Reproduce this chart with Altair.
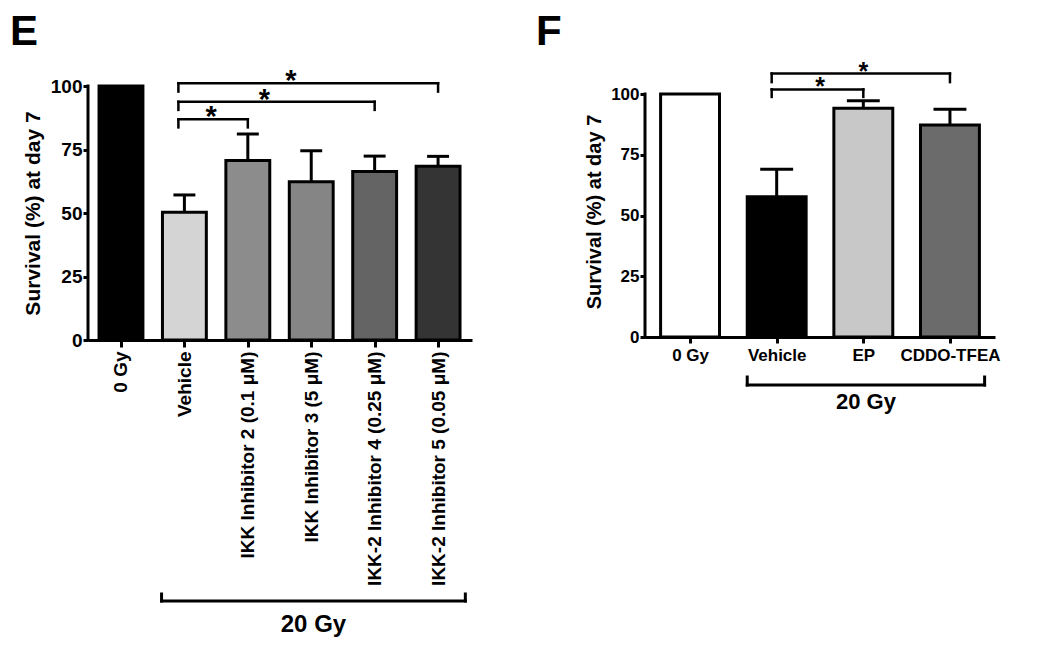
import json
import altair as alt
import pandas as pd

FONT = "Liberation Sans"

# ---------------- Panel E data ----------------
E_CATEGORIES = ["0 Gy", "Vehicle", "IKK Inhibitor 2 (0.1 μM)", "IKK Inhibitor 3 (5 μM)",
                "IKK-2 Inhibitor 4 (0.25 μM)", "IKK-2 Inhibitor 5 (0.05 μM)"]
E_VALUES = [100, 50.3, 70.7, 62.3, 66.3, 68.4]
E_ERRORS = [0, 6.8, 10.4, 12.2, 6.1, 3.9]
E_COLORS = ["#000000", "#d4d4d4", "#8c8c8c", "#858585", "#646464", "#343434"]
E_SIG_FROM = ["Vehicle", "Vehicle", "Vehicle"]
E_SIG_TO = ["IKK Inhibitor 2 (0.1 μM)", "IKK-2 Inhibitor 4 (0.25 μM)", "IKK-2 Inhibitor 5 (0.05 μM)"]
E_SIG_Y = [86.9, 93.8, 101.1]
E_SIG_LEG = [83.7, 90.6, 97.8]
E_SIG_TEXT = ["*", "*", "*"]
E_GROUP_LABEL = "20 Gy"
E_GROUP_FROM = "Vehicle"
E_GROUP_TO = "IKK-2 Inhibitor 5 (0.05 μM)"

# ---------------- Panel F data ----------------
F_CATEGORIES = ["0 Gy", "Vehicle", "EP", "CDDO-TFEA"]
F_VALUES = [100, 57.7, 94.1, 87.2]
F_ERRORS = [0, 11.3, 3.1, 6.5]
F_COLORS = ["#ffffff", "#000000", "#c8c8c8", "#6b6b6b"]
F_SIG_FROM = ["Vehicle", "Vehicle"]
F_SIG_TO = ["EP", "CDDO-TFEA"]
F_SIG_Y = [101.9, 108.4]
F_SIG_LEG = [98.8, 104.9]
F_SIG_TEXT = ["*", "*"]
F_GROUP_LABEL = "20 Gy"
F_GROUP_FROM = "Vehicle"
F_GROUP_TO = "CDDO-TFEA"

Y_TICKS = [0, 25, 50, 75, 100]
Y_TITLE = "Survival (%) at day 7"


def panel(cats, vals, errs, colors, sig_from, sig_to, sig_y, sig_leg, sig_text,
          group_label, group_from, group_to, letter, st):
    n = len(cats)
    bars_df = pd.DataFrame({"cat": cats, "idx": list(range(n)), "value": vals, "err": errs})
    bars_df["upper"] = bars_df["value"] + bars_df["err"]
    sig_df = pd.DataFrame({
        "x1": [cats.index(c) for c in sig_from],
        "x2": [cats.index(c) for c in sig_to],
        "y": sig_y, "leg": sig_leg, "text": sig_text,
    })
    grp_df = pd.DataFrame({"x1": [cats.index(group_from)], "x2": [cats.index(group_to)],
                           "text": [group_label]})
    letter_df = pd.DataFrame({"text": [letter]})

    xscale = alt.Scale(domain=[-st["pad_l"], n - 1 + st["pad_r"]], nice=False, zero=False)
    yscale = alt.Scale(domain=[0, st["ymax"]], nice=False, zero=True)
    xaxis = alt.Axis(
        values=list(range(n)),
        labelExpr=json.dumps(cats, ensure_ascii=False) + "[datum.value]",
        labelAngle=st["label_angle"], labelFont=FONT, labelFontWeight="bold",
        labelFontSize=st["xlabel_size"], labelColor="black", labelPadding=st["xlabel_pad"],
        labelOverlap=False, labelFlush=False, labelBound=False, labelLimit=0,
        tickSize=st["xtick"], tickWidth=3, tickColor="black",
        domainWidth=3, domainColor="black", grid=False, title=None,
    )
    yaxis = alt.Axis(
        values=Y_TICKS, title=Y_TITLE, titleFont=FONT, titleFontWeight="bold",
        titleFontSize=st["ytitle_size"], titleColor="black", titlePadding=st["ytitle_pad"],
        labelFont=FONT, labelFontWeight="bold", labelFontSize=st["ylabel_size"],
        labelColor="black", labelPadding=1, labelOverlap=False, labelFlush=False,
        tickSize=5, tickWidth=3, tickColor="black", domain=False, grid=False,
    )

    def X(f):
        return alt.X(f, type="quantitative", scale=xscale, axis=xaxis, title=None)

    def Y(f):
        return alt.Y(f, type="quantitative", scale=yscale, axis=yaxis)

    base = alt.Chart(bars_df)

    stems = base.transform_filter("datum.err > 0").mark_rule(
        color="black", strokeWidth=3).encode(x=X("idx"), y=Y("value"), y2="upper:Q")
    caps = base.transform_filter("datum.err > 0").transform_calculate(
        cl=f"datum.idx - {st['cap_hw']}", cr=f"datum.idx + {st['cap_hw']}"
    ).mark_rule(color="black", strokeWidth=3).encode(x=X("cl"), x2="cr:Q", y=Y("upper"))

    bars = base.transform_calculate(
        xl=f"datum.idx - {st['bar_hw']}", xr=f"datum.idx + {st['bar_hw']}"
    ).mark_rect(stroke="black", strokeWidth=3, strokeJoin="miter").encode(
        x=X("xl"), x2="xr:Q", y=Y("value"), y2=alt.datum(0),
        fill=alt.Color("cat:N", scale=alt.Scale(domain=cats, range=colors), legend=None),
    )

    yline = alt.Chart(letter_df).mark_rule(color="black", strokeWidth=3, strokeCap="square").encode(
        x=alt.value(0), y=alt.datum(0), y2=alt.datum(100))

    sb = alt.Chart(sig_df)
    sig_h = sb.mark_rule(color="black", strokeWidth=2.5, strokeCap="square",
                         xOffset=st["sig_xoff"]).encode(x=X("x1"), x2="x2:Q", y=Y("y"))
    sig_l = sb.mark_rule(color="black", strokeWidth=2.5, strokeCap="square",
                         xOffset=st["sig_xoff"]).encode(x=X("x1"), y=Y("leg"), y2="y:Q")
    sig_r = sb.mark_rule(color="black", strokeWidth=2.5, strokeCap="square").encode(
        x=X("x2"), y=Y("leg"), y2="y:Q")
    stars = sb.transform_calculate(
        sx=f"datum.x1 + {st['star_f']} * (datum.x2 - datum.x1)"
    ).mark_text(font=FONT, fontWeight="bold", fontSize=st["star_size"], color="black",
                baseline="alphabetic", dy=st["star_dy"]).encode(x=X("sx"), y=Y("y"), text="text:N")

    gb = alt.Chart(grp_df).transform_calculate(
        gs=f"datum.x1 - {st['g_l']}", ge=f"datum.x2 + {st['g_r']}",
        gm=f"(datum.x1 - {st['g_l']} + datum.x2 + {st['g_r']}) / 2")
    g_h = gb.mark_rule(color="black", strokeWidth=3, strokeCap="square").encode(
        x=X("gs"), x2="ge:Q", y=alt.value(st["g_line"]))
    g_l = gb.mark_rule(color="black", strokeWidth=3, strokeCap="square").encode(
        x=X("gs"), y=alt.value(st["g_leg"]), y2=alt.value(st["g_line"]))
    g_r = gb.mark_rule(color="black", strokeWidth=3, strokeCap="square").encode(
        x=X("ge"), y=alt.value(st["g_leg"]), y2=alt.value(st["g_line"]))
    g_t = gb.mark_text(font=FONT, fontWeight="bold", fontSize=st["g_size"], color="black",
                       baseline="middle", align="center").encode(
        x=X("gm"), y=alt.value(st["g_text"]), text="text:N")

    let = alt.Chart(letter_df).mark_text(
        font=FONT, fontWeight="bold", fontSize=42, color="black", align="left",
        baseline="alphabetic").encode(x=alt.value(st["letter_x"]), y=alt.value(st["letter_y"]),
                                      text="text:N")

    return alt.layer(stems, caps, bars, yline, sig_h, sig_l, sig_r, stars,
                     g_h, g_l, g_r, g_t, let).properties(width=st["width"], height=st["height"])


E_STYLE = dict(width=384, height=254, pad_l=0.52, pad_r=0.535, ymax=100, bar_hw=0.346,
               cap_hw=0.173, label_angle=-90, xlabel_size=19, xlabel_pad=4, xtick=7,
               ylabel_size=19, ytitle_size=21, ytitle_pad=7, star_size=29, star_dy=7,
               star_f=0.42, sig_xoff=-6, g_l=0.36, g_r=0.43, g_line=515, g_leg=508,
               g_text=539, g_size=24, letter_x=-78, letter_y=-41)
F_STYLE = dict(width=350, height=251, pad_l=0.52, pad_r=0.52, ymax=100 * 251 / 243, bar_hw=0.34,
               cap_hw=0.19, label_angle=0, xlabel_size=17, xlabel_pad=4, xtick=6,
               ylabel_size=17, ytitle_size=20, ytitle_pad=6, star_size=25, star_dy=6,
               star_f=0.5, sig_xoff=-5, g_l=0.34, g_r=0.40, g_line=299, g_leg=291,
               g_text=316, g_size=22, letter_x=-109, letter_y=-41)

chart_e = panel(E_CATEGORIES, E_VALUES, E_ERRORS, E_COLORS, E_SIG_FROM, E_SIG_TO, E_SIG_Y,
                E_SIG_LEG, E_SIG_TEXT, E_GROUP_LABEL, E_GROUP_FROM, E_GROUP_TO, "E", E_STYLE)
chart_f = panel(F_CATEGORIES, F_VALUES, F_ERRORS, F_COLORS, F_SIG_FROM, F_SIG_TO, F_SIG_Y,
                F_SIG_LEG, F_SIG_TEXT, F_GROUP_LABEL, F_GROUP_FROM, F_GROUP_TO, "F", F_STYLE)

chart = alt.hconcat(chart_e, chart_f, spacing=64).resolve_scale(
    fill="independent", x="independent", y="independent"
).properties(
    padding={"left": 2, "top": 3, "right": 5, "bottom": 5},
    background="white",
).configure_view(stroke=None)

chart.save("out.html", embed_options={"renderer": "svg", "actions": False})
